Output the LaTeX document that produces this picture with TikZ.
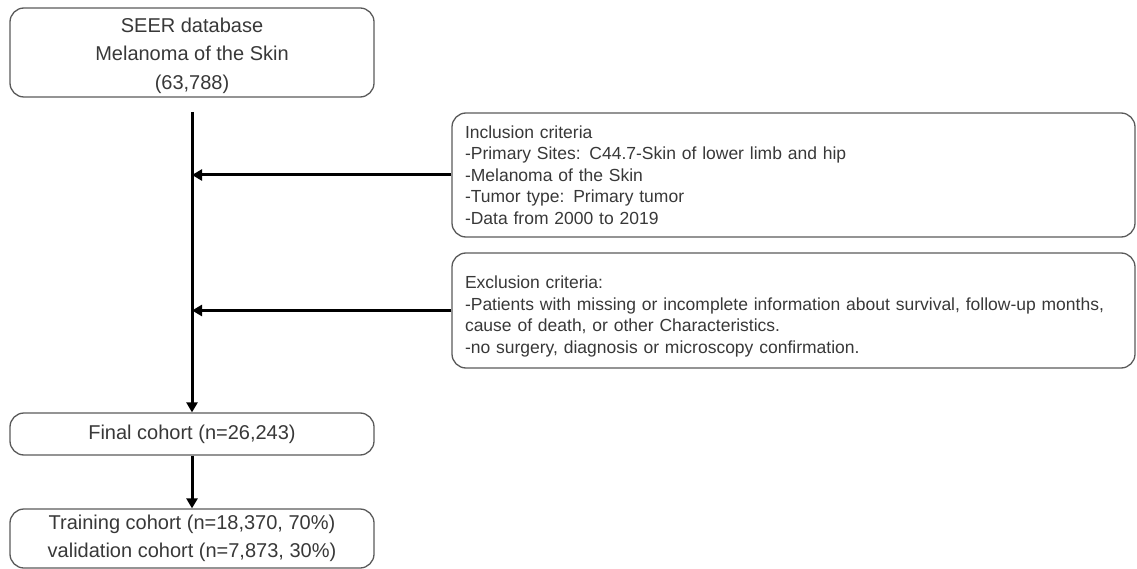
\documentclass[tikz,border=0pt]{standalone}
\usepackage{fontspec}
\setmainfont{Liberation Sans}
\usetikzlibrary{arrows.meta,positioning}

\definecolor{boxline}{HTML}{5A5A5A}
\definecolor{txtgray}{HTML}{383838}

\tikzset{
  box/.style={draw=boxline, line width=1.3pt, rounded corners=14pt, text=txtgray, inner sep=0pt},
  mainbox/.style={box, minimum width=364pt, align=center, font=\fontsize{20}{28.5}\selectfont},
  critbox/.style={box, minimum width=683pt, text width=657pt, inner xsep=13pt, align=left,
    font=\fontsize{17.5}{21.5}\selectfont},
  flow/.style={line width=3pt, -{Triangle[length=10pt,width=11pt]}},
}

\begin{document}
\begin{tikzpicture}[x=1pt,y=-1pt]
  \useasboundingbox (0,0) rectangle (1137,569);

  % Main column
  \node[mainbox, minimum height=89pt] (seer) at (192,52.5)
    {\rule{0pt}{21pt}SEER database\\Melanoma of the Skin\\(63,788)};
  \node[mainbox, minimum height=42pt] (final) at (192,434)
    {Final cohort (n=26,243)};
  \node[mainbox, minimum height=59pt] (split) at (192,538.5)
    {Training cohort (n=18,370, 70\%)\\validation cohort (n=7,873, 30\%)};
  \coordinate (trunk) at (192,112);

  % Criteria
  \node[critbox, minimum height=124pt] (incl) at (793.5,175)
    {Inclusion criteria\\
     -Primary Sites: C44.7-Skin of lower limb and hip\\
     -Melanoma of the Skin\\
     -Tumor type: Primary tumor\\
     -Data from 2000 to 2019};
  \node[critbox, minimum height=115pt] (excl) at (793.5,310.5)
    {\rule{0pt}{25pt}Exclusion criteria:\\
     -Patients with missing or incomplete information about survival, follow-up months,\\
     cause of death, or other Characteristics.\\
     -no surgery, diagnosis or microscopy confirmation.};

  % Arrows
  \draw[flow] (trunk) -- (final.north);
  \draw[flow] (incl.west) -- (incl.west -| trunk);
  \draw[flow] (excl.west) -- (excl.west -| trunk);
  \draw[flow] (final.south) -- (split.north);

\end{tikzpicture}
\end{document}
